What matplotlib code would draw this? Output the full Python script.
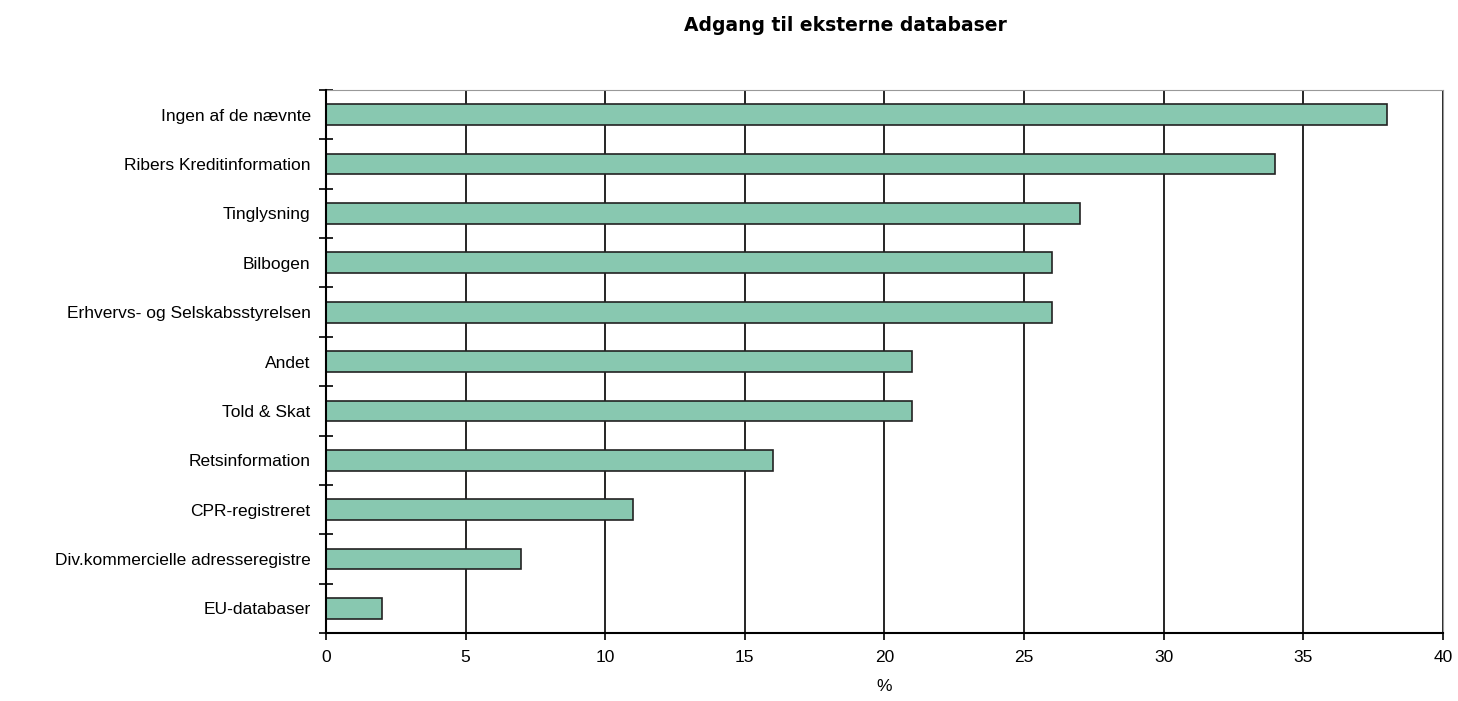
import matplotlib
matplotlib.use("Agg")
import matplotlib.pyplot as plt

categories = [
    "Ingen af de nævnte",
    "Ribers Kreditinformation",
    "Tinglysning",
    "Bilbogen",
    "Erhvervs- og Selskabsstyrelsen",
    "Andet",
    "Told & Skat",
    "Retsinformation",
    "CPR-registreret",
    "Div.kommercielle adresseregistre",
    "EU-databaser",
]
values = [38, 34, 27, 26, 26, 21, 21, 16, 11, 7, 2]
x_ticks = [0, 5, 10, 15, 20, 25, 30, 35, 40]

plt.rcParams["font.family"] = ["Liberation Sans", "DejaVu Sans"]

fig = plt.figure(figsize=(14.58, 7.01), dpi=100)
ax = fig.add_axes([0.2236, 0.097, 0.766, 0.7746])

n = len(categories)
pos = list(range(n))
ax.barh(pos, values, height=0.42, color="#88C8B0", edgecolor="#222222",
        linewidth=1.2, zorder=3)

ax.set_xlim(0, 40)
ax.set_ylim(n - 0.5, -0.5)
ax.set_xticks(x_ticks)
ax.set_xticklabels([str(t) for t in x_ticks], fontsize=12.5)
ax.set_yticks(pos)
ax.set_yticklabels(categories, fontsize=12.5)
ax.tick_params(axis="y", length=0, pad=11)
ax.set_yticks([i - 0.5 for i in range(n + 1)], minor=True)
ax.tick_params(axis="y", which="minor", length=10, direction="inout", width=1.2)
ax.tick_params(axis="x", length=5, width=1.2, pad=7)

ax.grid(axis="x", color="black", linewidth=1.2, zorder=0)
ax.set_axisbelow(True)

for side in ["top", "right"]:
    ax.spines[side].set_color("#999999")
for side in ["left", "bottom"]:
    ax.spines[side].set_linewidth(1.5)
    ax.spines[side].set_zorder(4)

ax.set_xlabel("%", fontsize=12.5, labelpad=10)
fig.text(0.58, 0.963, "Adgang til eksterne databaser", ha="center",
         va="center", fontsize=13.5, fontweight="bold", family="DejaVu Sans")

fig.savefig("out.png", dpi=100)
